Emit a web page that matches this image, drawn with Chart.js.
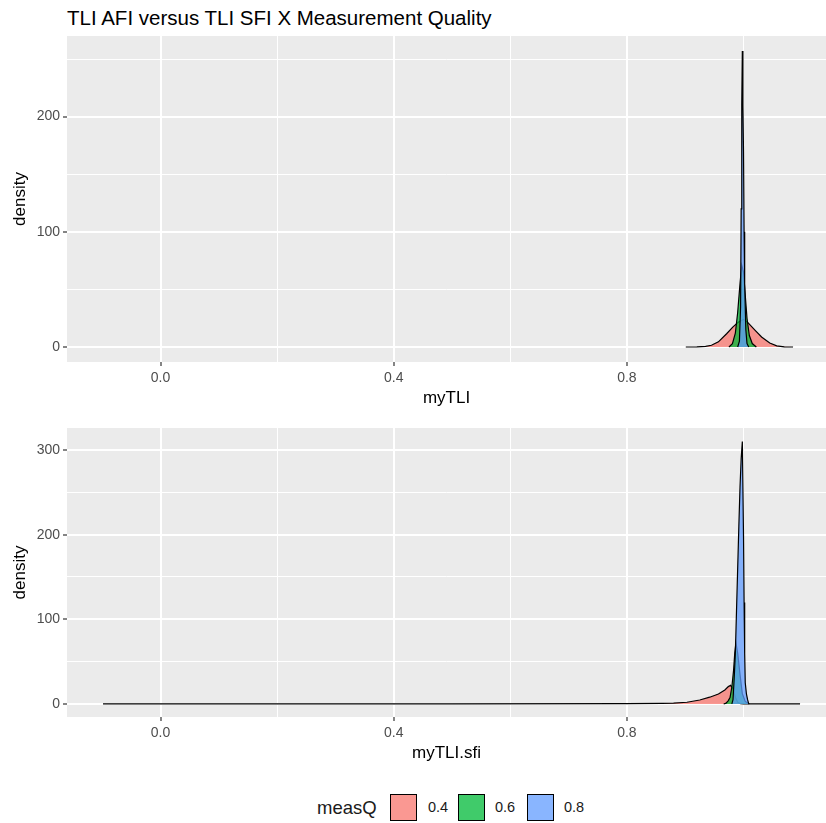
<!DOCTYPE html>
<html>
<head>
<meta charset="utf-8">
<title>TLI AFI versus TLI SFI X Measurement Quality</title>
<script src="https://cdn.jsdelivr.net/npm/chart.js"></script>
<style>
  body { margin: 0; background: #fff; font-family: "Liberation Sans", Arial, sans-serif; }
  #wrap { position: relative; width: 826px; height: 823px; overflow: hidden; }
  canvas { position: absolute; left: 0; }
  #title { position: absolute; left: 67px; top: 6px; font-size: 20.5px; color: #000; white-space: nowrap; }
  .lg { position: absolute; top: 794px; height: 27px; line-height: 27px; color: #1a1a1a; white-space: nowrap; }
  .key { position: absolute; top: 794px; width: 25px; height: 25px; border: 1px solid #000; }
</style>
</head>
<body>
<div id="wrap">
  <div id="title">TLI AFI versus TLI SFI X Measurement Quality</div>
  <canvas id="top" width="826" height="410" style="top:0"></canvas>
  <canvas id="bottom" width="826" height="355" style="top:410px"></canvas>
  <div class="lg" style="left:317px;font-size:18.5px">measQ</div>
  <div class="key" style="left:390px;background:rgba(248,118,109,0.75)"></div>
  <div class="lg" style="left:428px;font-size:14.5px">0.4</div>
  <div class="key" style="left:458px;background:rgba(0,186,56,0.75)"></div>
  <div class="lg" style="left:495px;font-size:14.5px">0.6</div>
  <div class="key" style="left:527px;background:rgba(97,156,255,0.75)"></div>
  <div class="lg" style="left:564px;font-size:14.5px">0.8</div>
</div>
<script>
// groups of measQ
var groups = ['0.4', '0.6', '0.8'];

// myTLI densities
var tli04x = [0.901, 0.92, 0.935, 0.945, 0.957, 0.971, 0.982, 0.991, 1.0, 1.008, 1.02, 1.031, 1.045, 1.057, 1.07, 1.085];
var tli04y = [0, 0.1, 0.5, 1.5, 4.5, 11.5, 17.5, 21.5, 24, 21, 14.5, 8.7, 3.5, 1, 0.2, 0];
var tli06x = [0.975, 0.981, 0.986, 0.990, 0.994, 0.997, 1.000, 1.003, 1.006, 1.010, 1.015, 1.022];
var tli06y = [0, 3, 12, 30, 55, 71, 65, 45, 25, 10, 3, 0];
var tli08x = [0.990, 0.993, 0.995, 0.996, 0.997, 0.998, 0.999, 1.000, 1.001, 1.002, 1.004, 1.006, 1.009];
var tli08y = [0, 5, 35, 120, 210, 257, 210, 170, 100, 55, 15, 3, 0];

// myTLI.sfi densities
var sfi04x = [-0.0986, 0.2, 0.5, 0.8, 0.86, 0.88, 0.903, 0.925, 0.942, 0.957, 0.968, 0.974, 0.978, 0.982, 0.986, 0.99, 0.995, 1.0, 1.097];
var sfi04y = [0, 0.05, 0.1, 0.3, 0.7, 1, 2, 4.7, 8, 11.8, 16.5, 20.5, 22, 18, 8, 2, 0.3, 0, 0];
var sfi06x = [0.966, 0.970, 0.974, 0.977, 0.980, 0.983, 0.985, 0.987, 0.990, 0.994, 0.998, 1.003, 1.01];
var sfi06y = [0, 1, 4, 8, 20, 40, 60, 72, 60, 35, 12, 3, 0];
var sfi08x = [0.980, 0.982, 0.984, 0.986, 0.988, 0.990, 0.992, 0.994, 0.996, 0.998, 1.000, 1.001, 1.002, 1.003, 1.005, 1.007, 1.009];
var sfi08y = [0, 5, 30, 60, 110, 160, 210, 256, 290, 310, 200, 120, 60, 25, 12, 5, 0];

// axis ticks
var xTicks = [0, 0.2, 0.4, 0.6, 0.8, 1.0];
var tliYTicks = [0, 50, 100, 150, 200, 250];
var sfiYTicks = [0, 50, 100, 150, 200, 250, 300];

var fills = ['rgba(248,118,109,0.75)', 'rgba(0,186,56,0.75)', 'rgba(97,156,255,0.75)'];

Chart.defaults.font.family = '"Liberation Sans", Arial, sans-serif';

function pts(xs, ys) {
  return xs.map(function (x, i) { return { x: x, y: ys[i] }; });
}
function xMajor(v) { return Math.round(v * 10) % 4 === 0; }
function yMajor(v) { return Math.round(v) % 100 === 0; }

var panelBg = {
  id: 'panelBg',
  beforeDraw: function (chart) {
    var a = chart.chartArea, c = chart.ctx;
    c.save();
    c.fillStyle = '#EBEBEB';
    c.fillRect(a.left, a.top, a.right - a.left, a.bottom - a.top);
    c.restore();
  }
};

function makeChart(id, sets, yMin, yMax, yTicks, xTitle, padTop) {
  return new Chart(document.getElementById(id), {
    type: 'line',
    data: {
      datasets: sets.map(function (s, i) {
        return {
          label: groups[i],
          data: pts(s[0], s[1]),
          backgroundColor: fills[i],
          borderColor: '#000',
          borderWidth: 1.2,
          pointRadius: 0,
          tension: 0,
          fill: 'origin',
          order: 2 - i
        };
      })
    },
    options: {
      responsive: false,
      animation: false,
      devicePixelRatio: 1,
      layout: { padding: { top: padTop, left: 0, right: 0, bottom: 0 } },
      plugins: { legend: { display: false }, tooltip: { enabled: false } },
      scales: {
        x: {
          type: 'linear', min: -0.1604, max: 1.1415,
          afterBuildTicks: function (s) { s.ticks = xTicks.map(function (v) { return { value: v }; }); },
          afterFit: function (s) { s.height = 48; },
          ticks: {
            autoSkip: false, maxRotation: 0, padding: 4, color: '#4D4D4D', font: { size: 14 },
            callback: function (v) { return xMajor(v) ? v.toFixed(1) : ''; }
          },
          grid: {
            color: '#fff',
            lineWidth: function (c) { return c.tick && xMajor(c.tick.value) ? 2 : 1; },
            tickColor: function (c) { return c.tick && xMajor(c.tick.value) ? '#333' : 'rgba(0,0,0,0)'; },
            tickLength: 4, tickWidth: 1.2
          },
          border: { display: false },
          title: { display: true, text: xTitle, color: '#000', font: { size: 17 }, padding: { top: 0, bottom: 1 } }
        },
        y: {
          min: yMin, max: yMax,
          afterBuildTicks: function (s) { s.ticks = yTicks.map(function (v) { return { value: v }; }); },
          afterFit: function (s) { s.width = 67; },
          ticks: {
            autoSkip: false, padding: 3, color: '#4D4D4D', font: { size: 14 },
            callback: function (v) { return yMajor(v) ? String(v) : ''; }
          },
          grid: {
            color: '#fff',
            lineWidth: function (c) { return c.tick && yMajor(c.tick.value) ? 2 : 1; },
            tickColor: function (c) { return c.tick && yMajor(c.tick.value) ? '#333' : 'rgba(0,0,0,0)'; },
            tickLength: 4, tickWidth: 1.2
          },
          border: { display: false },
          title: { display: true, text: 'density', color: '#000', font: { size: 17 }, padding: { top: 10, bottom: 0 } }
        }
      }
    },
    plugins: [panelBg]
  });
}

makeChart('top', [[tli04x, tli04y], [tli06x, tli06y], [tli08x, tli08y]], -13, 270, tliYTicks, 'myTLI', 36);
makeChart('bottom', [[sfi04x, sfi04y], [sfi06x, sfi06y], [sfi08x, sfi08y]], -15.4, 326, sfiYTicks, 'myTLI.sfi', 18);
</script>
</body>
</html>
